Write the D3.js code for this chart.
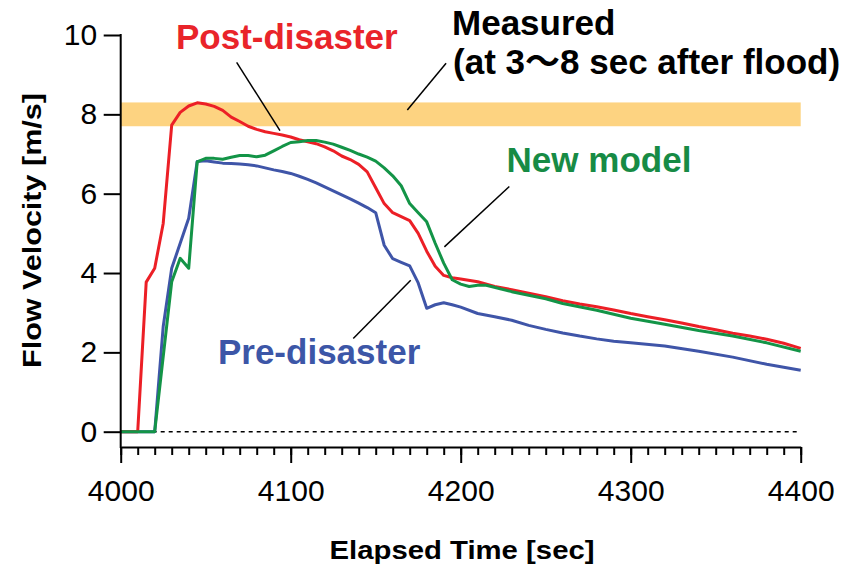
<!DOCTYPE html>
<html>
<head>
<meta charset="utf-8">
<script src="https://cdn.jsdelivr.net/npm/d3@7"></script>
<style>
  body { margin: 0; background: #fff; }
  text { font-family: "Liberation Sans", Arial, Helvetica, "Noto Sans CJK JP", sans-serif; }
</style>
</head>
<body>
<div id="chart"></div>
<script>
// data
var postTime = [4000, 4010, 4015, 4020, 4025, 4030, 4035, 4040, 4045, 4050, 4055, 4060, 4065, 4070, 4075, 4080, 4085, 4090, 4095, 4100,
    4105, 4110, 4115, 4120, 4125, 4130, 4135, 4140, 4145, 4150, 4155, 4160, 4165, 4170, 4175, 4180, 4185, 4190, 4195, 4200,
    4210, 4220, 4230, 4240, 4250, 4260, 4270, 4280, 4290, 4300, 4310, 4320, 4330, 4340, 4350, 4360, 4370, 4380, 4390, 4400];
var postVel = [0, 0, 3.77, 4.12, 5.25, 7.73, 8.05, 8.21, 8.29, 8.26, 8.2, 8.1, 7.93, 7.82, 7.7, 7.62, 7.56, 7.52, 7.48, 7.43,
    7.36, 7.31, 7.26, 7.18, 7.08, 6.95, 6.86, 6.74, 6.55, 6.15, 5.75, 5.52, 5.42, 5.32, 5.0, 4.55, 4.17, 3.94, 3.88, 3.85,
    3.78, 3.66, 3.58, 3.49, 3.4, 3.3, 3.22, 3.15, 3.07, 2.98, 2.9, 2.82, 2.74, 2.65, 2.57, 2.48, 2.41, 2.33, 2.23, 2.1];

var newTime = [4000, 4020, 4030, 4035, 4040, 4045, 4050, 4055, 4060, 4065, 4070, 4075, 4080, 4085, 4090, 4095, 4100,
    4105, 4110, 4115, 4120, 4125, 4130, 4135, 4140, 4145, 4150, 4155, 4160, 4165, 4170, 4175, 4180, 4185, 4190, 4195, 4200,
    4205, 4210, 4215, 4230, 4250, 4260, 4280, 4300, 4320, 4340, 4360, 4380, 4400];
var newVel = [0, 0, 3.78, 4.37, 4.12, 6.8, 6.89, 6.89, 6.87, 6.92, 6.96, 6.96, 6.93, 6.97, 7.08, 7.19, 7.29,
    7.31, 7.34, 7.34, 7.3, 7.25, 7.17, 7.09, 7.0, 6.92, 6.82, 6.65, 6.45, 6.2, 5.75, 5.52, 5.29, 4.75, 4.25, 3.83, 3.72,
    3.66, 3.69, 3.69, 3.53, 3.35, 3.23, 3.06, 2.86, 2.71, 2.55, 2.41, 2.24, 2.03];

var preTime = [4000, 4020, 4025, 4030, 4035, 4040, 4045, 4050, 4055, 4060, 4065, 4070, 4075, 4080, 4085, 4090, 4095, 4100,
    4105, 4110, 4115, 4120, 4125, 4130, 4135, 4140, 4145, 4150, 4155, 4160, 4165, 4170, 4175, 4180, 4185, 4190, 4195, 4200,
    4210, 4220, 4230, 4240, 4250, 4260, 4270, 4280, 4290, 4300, 4320, 4340, 4360, 4380, 4400];
var preVel = [0, 0, 2.65, 4.12, 4.75, 5.38, 6.81, 6.83, 6.8, 6.77, 6.76, 6.75, 6.73, 6.7, 6.65, 6.6, 6.56, 6.51,
    6.44, 6.36, 6.27, 6.17, 6.07, 5.97, 5.87, 5.76, 5.65, 5.52, 4.7, 4.36, 4.27, 4.18, 3.75, 3.11, 3.2, 3.25, 3.2, 3.14,
    2.98, 2.9, 2.81, 2.68, 2.58, 2.49, 2.41, 2.34, 2.28, 2.24, 2.16, 2.03, 1.88, 1.7, 1.55];

// measured range (band)
var measuredRange = [7.7, 8.3];

// tick labels
var xMajorTicks = [4000, 4100, 4200, 4300, 4400];
var xMinorTicks = d3.range(4000, 4401, 10);
var yTicks = [0, 2, 4, 6, 8, 10];

// set up the svg
var width = 851, height = 565;
var svg = d3.select("#chart")
  .append("svg")
    .attr("width", width)
    .attr("height", height);

var xScale = d3.scaleLinear()
    .domain([4000, 4400])
    .range([120.7, 800.7]);

var yScale = d3.scaleLinear()
    .domain([0, 10])
    .range([431.7, 35]);

var axisY = 447; // x axis sits a bit below zero

// measured band
svg.append("rect")
    .attr("x", xScale(4000))
    .attr("y", yScale(measuredRange[1]))
    .attr("width", xScale(4400) - xScale(4000))
    .attr("height", yScale(measuredRange[0]) - yScale(measuredRange[1]))
    .style("fill", "#fdd381");

// dashed zero line
svg.append("line")
    .attr("x1", xScale(4000))
    .attr("x2", xScale(4400))
    .attr("y1", yScale(0))
    .attr("y2", yScale(0))
    .style("stroke", "#000")
    .style("stroke-width", 1.6)
    .style("stroke-dasharray", "4,4");

// series lines
var line = d3.line()
    .x(function(d) { return xScale(d[0]); })
    .y(function(d) { return yScale(d[1]); });

var series = [
    { t: preTime, v: preVel, color: "#3f55a8" },
    { t: postTime, v: postVel, color: "#ec1f26" },
    { t: newTime, v: newVel, color: "#139447" }
];

series.forEach(function(s) {
    svg.append("path")
        .datum(d3.zip(s.t, s.v))
        .attr("d", line)
        .style("fill", "none")
        .style("stroke", s.color)
        .style("stroke-width", 3)
        .style("stroke-linejoin", "round");
});

// axes
svg.append("g")
    .attr("transform", "translate(0," + axisY + ")")
    .call(d3.axisBottom(xScale).tickValues(xMinorTicks).tickSize(8).tickSizeOuter(0).tickFormat(""))
    .call(function(g) { g.select(".domain").remove(); })
    .selectAll("line")
    .style("stroke-width", 2);

var xAxis = svg.append("g")
    .attr("transform", "translate(0," + axisY + ")")
    .call(d3.axisBottom(xScale).tickValues(xMajorTicks).tickSize(16).tickSizeOuter(0).tickPadding(17).tickFormat(d3.format("d")));
xAxis.select(".domain").style("stroke-width", 2);
xAxis.selectAll("line").style("stroke-width", 2);
xAxis.selectAll("text")
    .style("font-size", "30px")
    .style("font-family", "'Liberation Sans', Arial, sans-serif")
    .style("fill", "#000");

var yAxis = svg.append("g")
    .attr("transform", "translate(" + xScale(4000) + ",0)")
    .call(d3.axisLeft(yScale).tickValues(yTicks).tickSize(17).tickPadding(6.5));
yAxis.select(".domain").remove();
yAxis.selectAll("line").style("stroke-width", 2);
yAxis.selectAll("text")
    .style("font-size", "30px")
    .style("font-family", "'Liberation Sans', Arial, sans-serif")
    .style("fill", "#000");

svg.append("line")
    .attr("x1", xScale(4000))
    .attr("x2", xScale(4000))
    .attr("y1", yScale(10) - 1)
    .attr("y2", axisY + 1)
    .style("stroke", "#000")
    .style("stroke-width", 2);

// axis titles
svg.append("text")
    .attr("x", 462)
    .attr("y", 559)
    .attr("text-anchor", "middle")
    .attr("textLength", 265)
    .attr("lengthAdjust", "spacingAndGlyphs")
    .style("font-size", "26px")
    .style("font-weight", "bold")
    .text("Elapsed Time [sec]");

svg.append("text")
    .attr("transform", "translate(41,230.5) rotate(-90)")
    .attr("text-anchor", "middle")
    .attr("textLength", 275)
    .attr("lengthAdjust", "spacingAndGlyphs")
    .style("font-size", "25px")
    .style("font-weight", "bold")
    .text("Flow Velocity [m/s]");

// callout lines (in data units)
var callouts = [
    [4068.2, 9.31, 4093.7, 7.59],
    [4191.4, 9.29, 4168.6, 8.11],
    [4228.6, 6.18, 4190.4, 4.66],
    [4170.6, 3.82, 4136.8, 2.35]
];
svg.selectAll(".callout")
    .data(callouts)
    .enter()
    .append("line")
    .attr("class", "callout")
    .attr("x1", function(d) { return xScale(d[0]); })
    .attr("y1", function(d) { return yScale(d[1]); })
    .attr("x2", function(d) { return xScale(d[2]); })
    .attr("y2", function(d) { return yScale(d[3]); })
    .style("stroke", "#000")
    .style("stroke-width", 1.5);

// labels
var labels = [
    { text: "Post-disaster", t: 4032.5, v: 9.65, color: "#e9242a" },
    { text: "Measured", t: 4194.9, v: 10.0, color: "#000" },
    { text: "(at 3\u301c8 sec after flood)", t: 4195.5, v: 9.02, color: "#000" },
    { text: "New model", t: 4227, v: 6.55, color: "#178b45" },
    { text: "Pre-disaster", t: 4057.2, v: 1.71, color: "#3c56a7" }
];
svg.selectAll(".label")
    .data(labels)
    .enter()
    .append("text")
    .attr("class", "label")
    .attr("x", function(d) { return xScale(d.t); })
    .attr("y", function(d) { return yScale(d.v); })
    .style("font-size", "35px")
    .style("font-weight", "bold")
    .style("fill", function(d) { return d.color; })
    .text(function(d) { return d.text; });
</script>
</body>
</html>
